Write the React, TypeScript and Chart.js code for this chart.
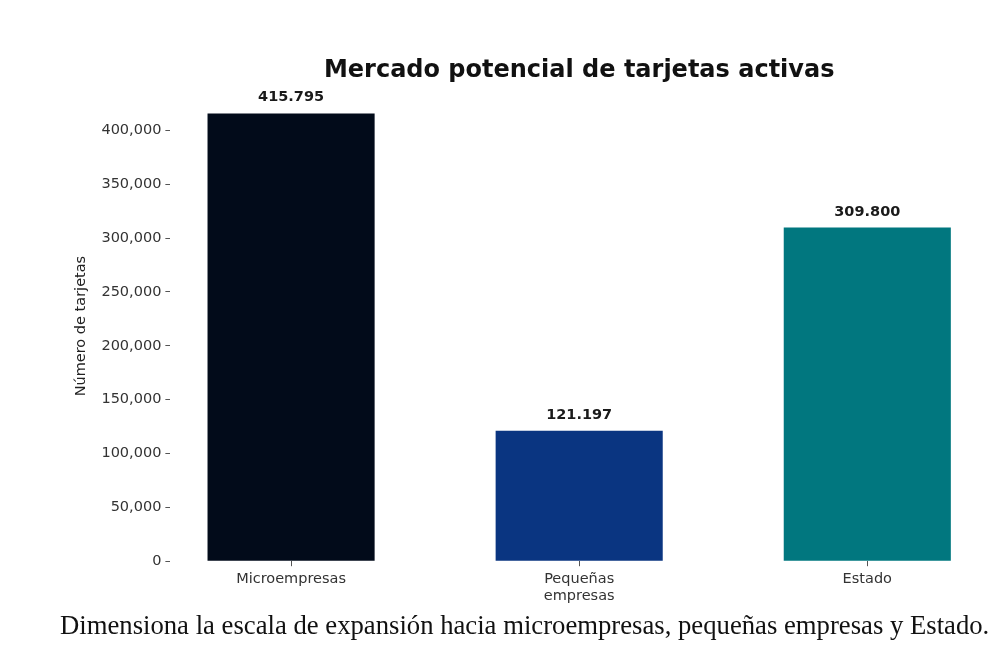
import React, { useEffect, useRef } from "react";
import { Chart, registerables } from "chart.js";

Chart.register(...registerables);

const categories: string[][] = [["Microempresas"], ["Pequeñas", "empresas"], ["Estado"]];
const values: number[] = [415795, 121197, 309800];
const barColors: string[] = ["#020b1a", "#0a3581", "#01777f"];
const yTickValues: number[] = [0, 50000, 100000, 150000, 200000, 250000, 300000, 350000, 400000];
const chartTitle = "Mercado potencial de tarjetas activas";
const yAxisTitle = "Número de tarjetas";
const caption = "Dimensiona la escala de expansión hacia microempresas, pequeñas empresas y Estado.";

const FONT = '"DejaVu Sans", sans-serif';

const fmtDots = (v: number) => String(Math.round(v)).replace(/\B(?=(\d{3})+(?!\d))/g, ".");
const fmtCommas = (v: number) => String(Math.round(v)).replace(/\B(?=(\d{3})+(?!\d))/g, ",");

const labelPlugin = {
  id: "barLabelsAndTitle",
  afterDatasetsDraw(chart: any) {
    const ctx = chart.ctx;
    const meta = chart.getDatasetMeta(0);
    ctx.save();
    ctx.fillStyle = "#1a1a1a";
    ctx.textAlign = "center";
    ctx.textBaseline = "alphabetic";
    ctx.font = `bold 14.5px ${FONT}`;
    meta.data.forEach((el: any, i: number) => {
      ctx.fillText(fmtDots(values[i]), el.x, el.y - 12);
    });
    const ca = chart.chartArea;
    ctx.font = `bold 24px ${FONT}`;
    ctx.textBaseline = "middle";
    ctx.fillStyle = "#111";
    ctx.fillText(chartTitle, (ca.left + ca.right) / 2, 71);
    ctx.restore();
  },
};

export default function App() {
  const ref = useRef<HTMLCanvasElement>(null);

  useEffect(() => {
    if (!ref.current) return;
    const tickFont = { family: FONT, size: 14.5 };
    const chart = new Chart(ref.current, {
      type: "bar",
      data: {
        datasets: [
          {
            data: values.map((v, i) => ({ x: i, y: v })),
            backgroundColor: barColors,
            borderWidth: 0,
            barPercentage: 0.58,
            categoryPercentage: 1,
          },
        ],
      },
      options: {
        animation: false,
        responsive: false,
        devicePixelRatio: 1,
        layout: { padding: { left: 63, right: 13, top: 91, bottom: 54 } },
        plugins: {
          legend: { display: false },
          tooltip: { enabled: false },
          title: { display: false },
        },
        scales: {
          x: {
            type: "linear",
            offset: false,
            min: -0.419,
            max: 2.419,
            afterBuildTicks: (s: any) => {
              s.ticks = categories.map((_, i) => ({ value: i }));
            },
            ticks: {
              callback: (v: any) => categories[v as number],
              font: tickFont,
              color: "#333",
              padding: 4,
              autoSkip: false,
              maxRotation: 0,
            },
            grid: { offset: false, drawOnChartArea: false, drawTicks: true, tickLength: 5, color: "#555" },
            border: { display: false },
          },
          y: {
            min: 0,
            max: 436585,
            afterBuildTicks: (s: any) => {
              s.ticks = yTickValues.map((v) => ({ value: v }));
            },
            ticks: {
              callback: (v: any) => fmtCommas(v as number),
              font: tickFont,
              color: "#333",
              padding: 4,
            },
            grid: { drawOnChartArea: false, drawTicks: true, tickLength: 5, color: "#555" },
            border: { display: false },
            title: {
              display: true,
              text: yAxisTitle,
              font: tickFont,
              color: "#222",
              padding: { top: 10, bottom: 7 },
            },
          },
        },
      },
      plugins: [labelPlugin],
    } as any);
    return () => chart.destroy();
  }, []);

  return (
    <div style={{ position: "fixed", left: 0, top: 0, width: 1001, height: 663, background: "#fff" }}>
      <canvas ref={ref} width={1001} height={663} style={{ width: 1001, height: 663, display: "block" }} />
      <div
        style={{
          position: "absolute",
          left: 60,
          top: 609,
          fontFamily: '"Liberation Serif", "Times New Roman", serif',
          fontSize: 26.7,
          lineHeight: "32px",
          color: "#111",
          whiteSpace: "nowrap",
        }}
      >
        {caption}
      </div>
    </div>
  );
}
